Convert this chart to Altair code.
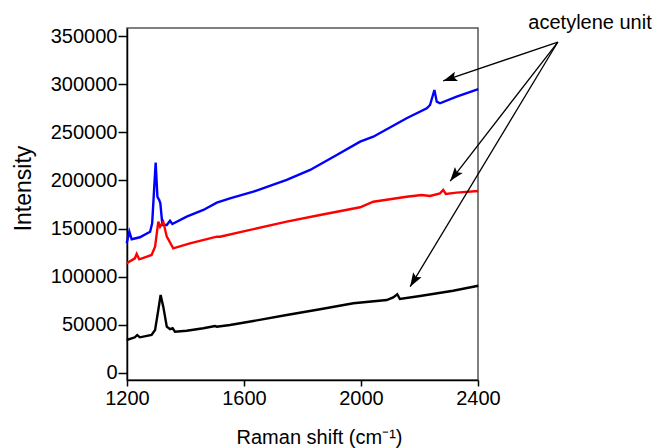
import math
import altair as alt
import pandas as pd

# ---- spectra (Raman shift in cm-1, intensity) ----
blue_x = [1199, 1208, 1216, 1244, 1279, 1286, 1298, 1304, 1310, 1314, 1321, 1336, 1347, 1355,
          1404, 1461, 1507, 1552, 1632, 1746, 1826, 1917, 1997, 2042, 2156, 2225, 2236, 2251,
          2259, 2270, 2327, 2401]
blue_y = [134600, 146700, 138800, 140900, 146700, 155400, 218500, 183100, 179700, 176200, 153700,
          153700, 158100, 154700, 162300, 169300, 176900, 181400, 188300, 200500, 210900, 226500,
          240300, 245500, 264700, 275100, 278500, 294100, 282000, 280300, 287200, 294900]

red_x = [1199, 1227, 1233, 1242, 1284, 1296, 1307, 1313, 1324, 1336, 1358, 1415, 1507, 1518,
         1621, 1746, 1860, 1997, 2042, 2156, 2207, 2236, 2270, 2281, 2290, 2327, 2401]
red_y = [113800, 119000, 123500, 118000, 122500, 131100, 157100, 151900, 157100, 141500, 129400,
         134600, 141500, 141500, 148500, 157100, 164100, 172100, 177900, 183100, 184900, 183800,
         186600, 190100, 185900, 187300, 189000]

black_x = [1199, 1227, 1235, 1244, 1284, 1296, 1307, 1315, 1324, 1336, 1347, 1356, 1364, 1404,
           1461, 1501, 1507, 1552, 1632, 1746, 1860, 1974, 2088, 2110, 2124, 2133, 2202, 2315, 2401]
black_y = [34000, 36800, 39200, 36800, 39200, 44400, 65200, 80800, 68700, 47900, 45200, 46200,
           42700, 43700, 46200, 48600, 47900, 49600, 53800, 60000, 66000, 72200, 75600, 78400,
           81600, 76700, 79800, 85300, 90500]

series_names = ["blue", "red", "black"]
series_colors = ["#0000ff", "#ff0000", "#000000"]

x_ticks = [1200, 1600, 2000, 2400]
y_ticks = [0, 50000, 100000, 150000, 200000, 250000, 300000, 350000]

# ---- annotation ----
ann_text = "acetylene unit"
ann_text_x = [2783]
ann_text_y = [364100]
arrow_from_x = [2673, 2673, 2673]
arrow_from_y = [344000, 344000, 344000]
arrow_to_x = [2281, 2305, 2168]
arrow_to_y = [303500, 199400, 89500]

X_DOM = [1200, 2400]
Y_DOM = [-7600, 358600]
W, H = 351, 352

rows = []
for name, xs, ys in zip(series_names, [blue_x, red_x, black_x], [blue_y, red_y, black_y]):
    for xv, yv in zip(xs, ys):
        rows.append({"series": name, "shift": xv, "intensity": yv})
df = pd.DataFrame(rows)


def to_px(xv, yv):
    px = (xv - X_DOM[0]) / (X_DOM[1] - X_DOM[0]) * W
    py = H - (yv - Y_DOM[0]) / (Y_DOM[1] - Y_DOM[0]) * H
    return px, py


arrows = []
for fx, fy, tx, ty in zip(arrow_from_x, arrow_from_y, arrow_to_x, arrow_to_y):
    p0 = to_px(fx, fy)
    p1 = to_px(tx, ty)
    dx, dy = p1[0] - p0[0], p1[1] - p0[1]
    ang = math.degrees(math.atan2(dx, -dy)) % 360
    arrows.append({"shift": fx, "intensity": fy, "x1": tx, "y1": ty, "ang": ang})
adf = pd.DataFrame(arrows)
tdf = pd.DataFrame({"shift": ann_text_x, "intensity": ann_text_y, "t": [ann_text]})
hdf = pd.DataFrame({"shift": arrow_to_x, "intensity": arrow_to_y,
                    "ang": [a["ang"] for a in arrows]})

xscale = alt.Scale(domain=X_DOM, nice=False, zero=False)
yscale = alt.Scale(domain=Y_DOM, nice=False, zero=False)

FONT = "Liberation Sans"

x_axis = alt.Axis(values=x_ticks, format="d", grid=False, tickSize=6, tickWidth=1.5,
                  tickColor="#000", domainColor="#000", domainWidth=1.5,
                  labelFont=FONT, labelFontSize=20, labelColor="#000", labelPadding=2,
                  labelFlush=False, labelOverlap=False,
                  title="Raman shift (cm\u207b\u00b9)", titleFont=FONT, titleFontSize=20,
                  titleFontWeight="normal", titleColor="#000", titleX=192, titleY=57,
                  titleBaseline="middle")
y_axis = alt.Axis(values=y_ticks, format="d", grid=False, tickSize=9, tickWidth=1.5,
                  tickColor="#000", domainColor="#000", domainWidth=1.5,
                  labelFont=FONT, labelFontSize=20, labelColor="#000", labelPadding=1,
                  labelFlush=False, labelOverlap=False,
                  title="Intensity", titleFont=FONT, titleFontSize=23,
                  titleFontWeight="normal", titleColor="#000", titleX=-104, titleY=160,
                  titleBaseline="middle", titleAngle=270)

X = alt.X("shift:Q", scale=xscale, axis=x_axis)
Y = alt.Y("intensity:Q", scale=yscale, axis=y_axis)

lines = alt.Chart(df).mark_line(strokeWidth=2.4).encode(
    x=X, y=Y,
    color=alt.Color("series:N", scale=alt.Scale(domain=series_names, range=series_colors),
                    legend=None),
)

rules = alt.Chart(adf).mark_rule(clip=False, color="#000", strokeWidth=1.3).encode(
    x=X, y=Y, x2="x1:Q", y2="y1:Q",
)

heads = alt.Chart(hdf).mark_point(
    clip=False, filled=True, color="#000", opacity=1, size=196,
    shape="M0,0L0.7,2L0,1.6L-0.7,2Z",
).encode(
    x=X, y=Y,
    angle=alt.Angle("ang:Q", scale=None),
)

label = alt.Chart(tdf).mark_text(
    clip=False, font=FONT, fontSize=20, color="#000", align="center", baseline="middle"
).encode(
    x=X, y=Y, text="t:N",
)

chart = alt.layer(lines, rules, heads, label).properties(
    width=W, height=H,
    autosize=alt.AutoSizeParams(type="none"),
    padding={"left": 119, "top": 20, "right": 178, "bottom": 68},
).configure(background="white").configure_view(stroke="#555", strokeWidth=1.5)

chart.save("out.html", embed_options={"renderer": "svg", "actions": False})
